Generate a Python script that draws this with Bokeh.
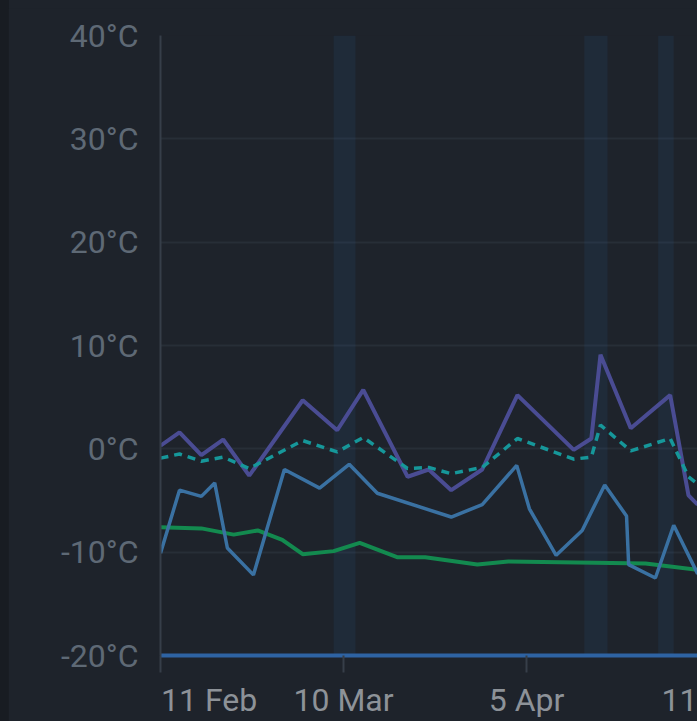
from bokeh.plotting import figure
from bokeh.models import Range1d, FixedTicker, PrintfTickFormatter, LinearAxis
from bokeh.embed import file_html
from bokeh.resources import INLINE

# ---- data (x = days since 11 Feb on the chart's sample axis) ----
max_day = [0.0, 2.7, 5.8, 8.9, 12.6, 20.2, 25.1, 28.8, 35.1, 38.1, 41.3, 45.7,
           50.7, 58.7, 61.2, 62.5, 66.8, 72.4, 75.0, 76.3]
max_temp = [0.3, 1.6, -0.6, 0.9, -2.6, 4.7, 1.8, 5.7, -2.7, -2.0, -4.0, -2.0,
            5.2, -0.1, 1.0, 9.1, 2.0, 5.2, -4.5, -5.4]
mean_temp = [-0.9, -0.5, -1.2, -0.8, -1.9, 0.8, -0.3, 1.1, -1.9, -1.8, -2.4, -1.8,
             1.0, -1.0, -0.8, 2.3, -0.2, 1.0, -2.7, -3.4]

min_day = [0.0, 2.7, 5.8, 7.7, 9.5, 13.2, 17.6, 22.6, 26.8, 30.8, 41.3, 45.7,
           50.6, 52.4, 56.2, 59.9, 63.1, 66.2, 66.5, 70.3, 72.9, 76.3]
min_temp = [-10.1, -4.0, -4.6, -3.3, -9.6, -12.2, -2.0, -3.8, -1.5, -4.3, -6.6, -5.4,
            -1.6, -5.8, -10.3, -7.9, -3.5, -6.5, -11.2, -12.5, -7.4, -12.1]

ground_day = [0.0, 5.8, 10.4, 13.8, 17.3, 20.2, 24.6, 28.3, 33.7, 37.6, 45.0, 49.4,
              68.9, 76.3]
ground_temp = [-7.6, -7.7, -8.3, -7.9, -8.8, -10.2, -9.9, -9.1, -10.5, -10.5, -11.2,
               -10.9, -11.1, -11.7]

band_start = [24.6, 60.2, 70.7]
band_end = [27.7, 63.5, 72.9]

y_ticks = [-20, -10, 0, 10, 20, 30, 40]
x_tick_days = [0, 26, 52]                       # tick marks
x_label_days = [6.9, 26, 52, 73.8]              # where the date texts sit
x_tick_labels = ["11 Feb", "10 Mar", "5 Apr", "11"]

Y_MIN, Y_MAX = -20, 40
X_MIN, X_MAX = 0, 76.28

BG = "#1e232b"
FONT = "Roboto"
FS = "32px"

p = figure(width=689, height=713,
           x_range=Range1d(X_MIN, X_MAX), y_range=Range1d(Y_MIN, Y_MAX),
           output_backend="svg", toolbar_location=None,
           min_border_left=152, min_border_right=0,
           min_border_top=27, min_border_bottom=66,
           background_fill_color=BG, border_fill_color=BG,
           outline_line_color=None)

# shaded bands
p.quad(left=band_start, right=band_end, bottom=Y_MIN, top=Y_MAX,
       fill_color="#2c5e96", fill_alpha=0.14, line_color=None)

# series
p.line(ground_day, ground_temp, line_color="#138a4f", line_width=4)
p.line(min_day, min_temp, line_color="#3a71a2", line_width=3.5)
p.line(max_day, max_temp, line_color="#4a4c93", line_width=4)
p.line(max_day, mean_temp, line_color="#16979a", line_width=3.5, line_dash="8 6")

# grid
p.xgrid.visible = False
p.ygrid.grid_line_color = "#272e37"
p.ygrid.grid_line_width = 2
p.ygrid.ticker = FixedTicker(ticks=y_ticks)

# y axis
ya = p.yaxis[0]
ya.ticker = FixedTicker(ticks=y_ticks)
ya.formatter = PrintfTickFormatter(format="%d°C")
ya.major_tick_out = 0
ya.major_tick_in = 0
ya.minor_tick_out = 0
ya.minor_tick_in = 0
ya.axis_line_color = "#363e49"
ya.axis_line_width = 2
ya.major_label_text_color = "#5e6975"
ya.major_label_text_font = FONT
ya.major_label_text_font_size = FS
ya.major_label_standoff = 22

# x axis: blue base line + tick marks (drawn as label-less minor ticks)
xa = p.xaxis[0]
xa.ticker = FixedTicker(ticks=[], minor_ticks=x_tick_days)
xa.major_label_standoff = 0
xa.axis_line_color = "#2e63a3"
xa.axis_line_width = 4
xa.major_tick_out = 17
xa.major_tick_in = 0
xa.minor_tick_line_color = "#363e49"
xa.minor_tick_line_width = 2
xa.minor_tick_out = 17
xa.minor_tick_in = 0

# second axis row: the date texts
xl = LinearAxis(ticker=FixedTicker(ticks=x_label_days),
                major_label_overrides={d: t for d, t in zip(x_label_days, x_tick_labels)},
                axis_line_color=None, major_tick_line_color=None,
                minor_tick_line_color=None, major_tick_out=0, major_tick_in=0,
                major_label_text_color="#8d9298", major_label_text_font=FONT,
                major_label_text_font_size=FS, major_label_standoff=8)
p.add_layout(xl, "below")

TEMPLATE = """
{% block preamble %}
<style>
html, body { margin: 0 !important; padding: 0 !important; overflow: hidden !important; }
html { background: linear-gradient(to right, #181c22 0px, #181c22 9px, #1e232b 9px) !important; }
body { margin: 8px 0 0 8px !important; width: 689px !important; height: 713px !important;
       background: transparent !important; }
</style>
{% endblock %}
"""

open("out.html", "w").write(file_html(p, INLINE, template=TEMPLATE))
